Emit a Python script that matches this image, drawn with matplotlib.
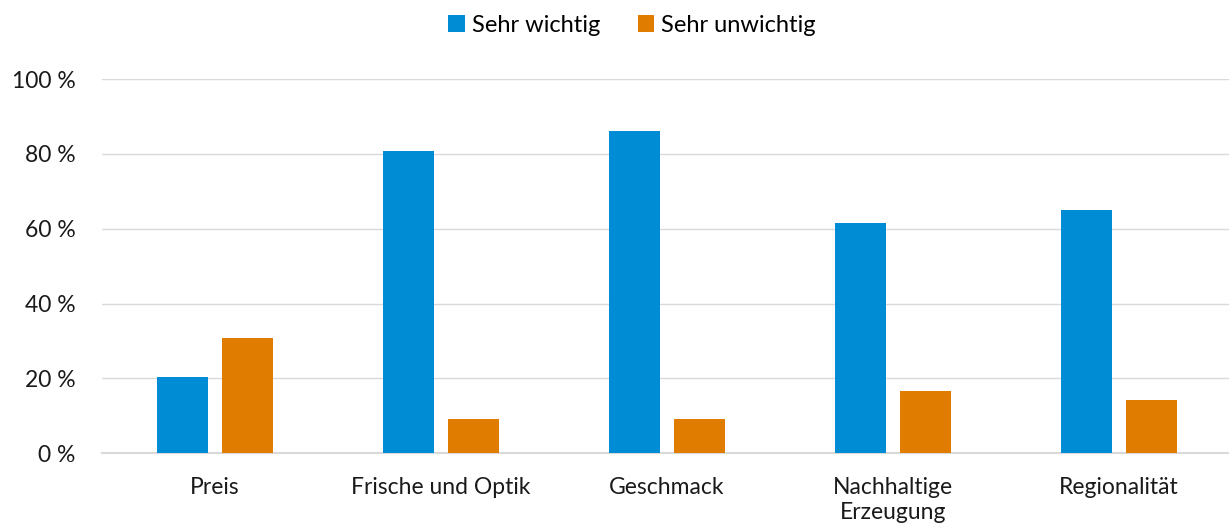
import numpy as np
import matplotlib.pyplot as plt

# Daten
categories = ['Preis', 'Frische und Optik', 'Geschmack', 'Nachhaltige\nErzeugung', 'Regionalität']
sehr_wichtig = [20.5, 80.7, 86.0, 61.6, 65.1]
sehr_unwichtig = [30.9, 9.2, 9.2, 16.7, 14.3]
yticks = [0, 20, 40, 60, 80, 100]

plt.rcParams['font.family'] = ['Lato', 'DejaVu Sans']

fig = plt.figure(figsize=(12.29, 5.31), dpi=100)
ax = fig.add_axes([102 / 1229, 1 - 453.3 / 531, 1130 / 1229, 374.3 / 531])

x = np.arange(len(categories))
w = 0.225
ax.bar(x - 0.143, sehr_wichtig, w, color='#008CD5', label='Sehr wichtig', zorder=3)
ax.bar(x + 0.143, sehr_unwichtig, w, color='#E07C00', label='Sehr unwichtig', zorder=3)

ax.set_xlim(-0.5, len(categories) - 0.5)
ax.set_ylim(0, 100)
ax.set_yticks(yticks)
ax.set_yticklabels([f'{v} %' for v in yticks], fontsize=16.5)
ax.set_xticks(x)
ax.set_xticklabels(categories, fontsize=16.5, linespacing=1.25)
ax.tick_params(axis='both', length=0, colors='#1a1a1a')
ax.tick_params(axis='y', pad=19)
ax.tick_params(axis='x', pad=17)
ax.yaxis.grid(True, color='#d9d9d9', linewidth=1, zorder=0)
for s in ['top', 'right', 'left']:
    ax.spines[s].set_visible(False)
ax.spines['bottom'].set_color('#d9d9d9')
ax.spines['bottom'].set_linewidth(1.5)

fig.legend(loc='center', bbox_to_anchor=(632 / 1229, 1 - 25 / 531), ncol=2, frameon=False,
           fontsize=17, handlelength=0.7, handleheight=0.7, handletextpad=0.3, columnspacing=1.6)

fig.savefig('out.png', dpi=100)
